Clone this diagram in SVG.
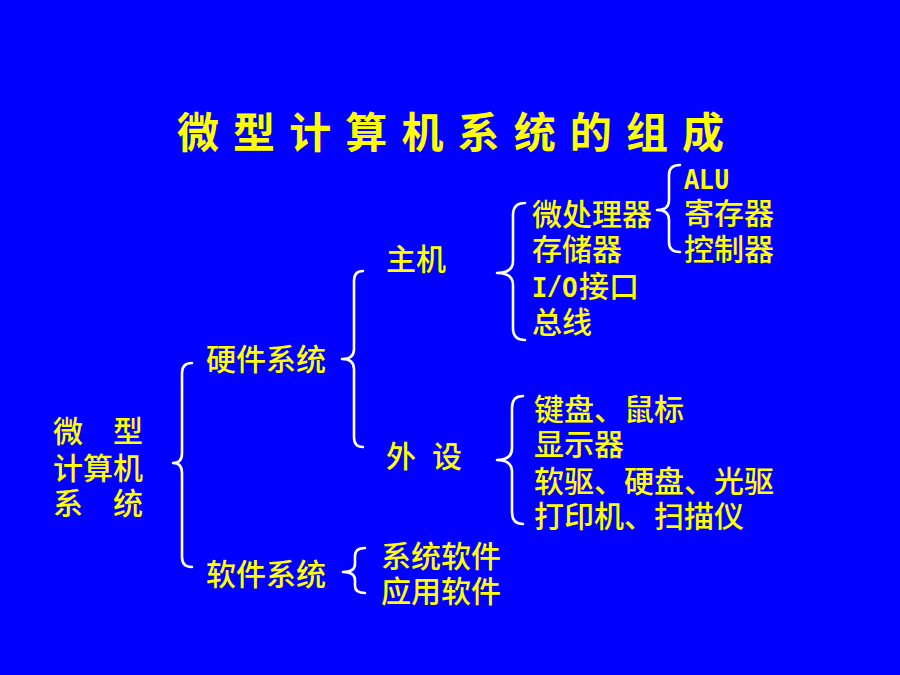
<svg xmlns="http://www.w3.org/2000/svg" width="900" height="675" viewBox="0 0 900 675">
<style>
text{fill:#FFFF00;font-family:"Liberation Sans","Noto Sans CJK SC","Noto Sans CJK JP",sans-serif;font-size:30px;font-weight:500}
.title{font-size:42px;font-weight:bold}
.lat{font-family:"Liberation Mono",monospace;font-weight:bold;font-size:30px}
.brace{fill:none;stroke:#FFFFFF;stroke-width:2.6;stroke-linecap:round;stroke-linejoin:round}
</style>
<rect x="0" y="0" width="900" height="675" fill="#0000FF"/>
<g id="title"><text class="title" x="177" y="148" textLength="547" lengthAdjust="spacing">微型计算机系统的组成</text></g>
<g id="connectors">
<path class="brace" d="M192,363 Q182,363 182,373 L182,453 Q182,463 173,463 Q182,463 182,473 L182,557 Q182,567 192,567"/>
<path class="brace" d="M363,271 Q354,271 354,281 L354,349 Q354,359 342,359 Q354,359 354,369 L354,437 Q354,447 363,447"/>
<path class="brace" d="M365,548 Q355,548 355,556 L355,564 Q355,572 343,572 Q355,572 355,580 L355,586 Q355,593 365,593"/>
<path class="brace" d="M525,203 Q513,203 513,215 L513,261 Q513,273 497,273 Q513,273 513,285 L513,328 Q513,340 525,340"/>
<path class="brace" d="M680,165 Q669,165 669,175 L669,200 Q669,210 657,210 Q669,210 669,220 L669,242 Q669,252 680,252"/>
<path class="brace" d="M523,396 Q512,396 512,408 L512,448 Q512,460 497,460 Q512,460 512,472 L512,512 Q512,524 523,524"/>
</g>
<g id="node-root">
<text x="53" y="442">微</text><text x="113" y="442">型</text>
<text x="53" y="479">计算机</text>
<text x="53" y="514">系</text><text x="113" y="514">统</text>
</g>
<g id="node-hardware"><text x="206" y="370">硬件系统</text></g>
<g id="node-software"><text x="206" y="585">软件系统</text></g>
<g id="node-host"><text x="386" y="270">主机</text></g>
<g id="node-peripheral"><text x="386" y="467">外</text><text x="432" y="467">设</text></g>
<g id="node-syssoft"><text x="381" y="567">系统软件</text></g>
<g id="node-appsoft"><text x="381" y="602">应用软件</text></g>
<g id="node-cpu"><text x="532" y="225">微处理器</text></g>
<g id="node-memory"><text x="532" y="260">存储器</text></g>
<g id="node-io"><text class="lat" transform="translate(532,297) scale(0.84,1)">I/O</text><text x="579" y="297">接口</text></g>
<g id="node-bus"><text x="532" y="333">总线</text></g>
<g id="node-alu"><text class="lat" transform="translate(684,189) scale(0.84,1)">ALU</text></g>
<g id="node-register"><text x="684" y="224">寄存器</text></g>
<g id="node-controller"><text x="684" y="260">控制器</text></g>
<g id="node-input"><text x="534" y="420">键盘、鼠标</text></g>
<g id="node-display"><text x="534" y="455">显示器</text></g>
<g id="node-drives"><text x="534" y="492">软驱、硬盘、光驱</text></g>
<g id="node-printer"><text x="534" y="527">打印机、扫描仪</text></g>
</svg>
